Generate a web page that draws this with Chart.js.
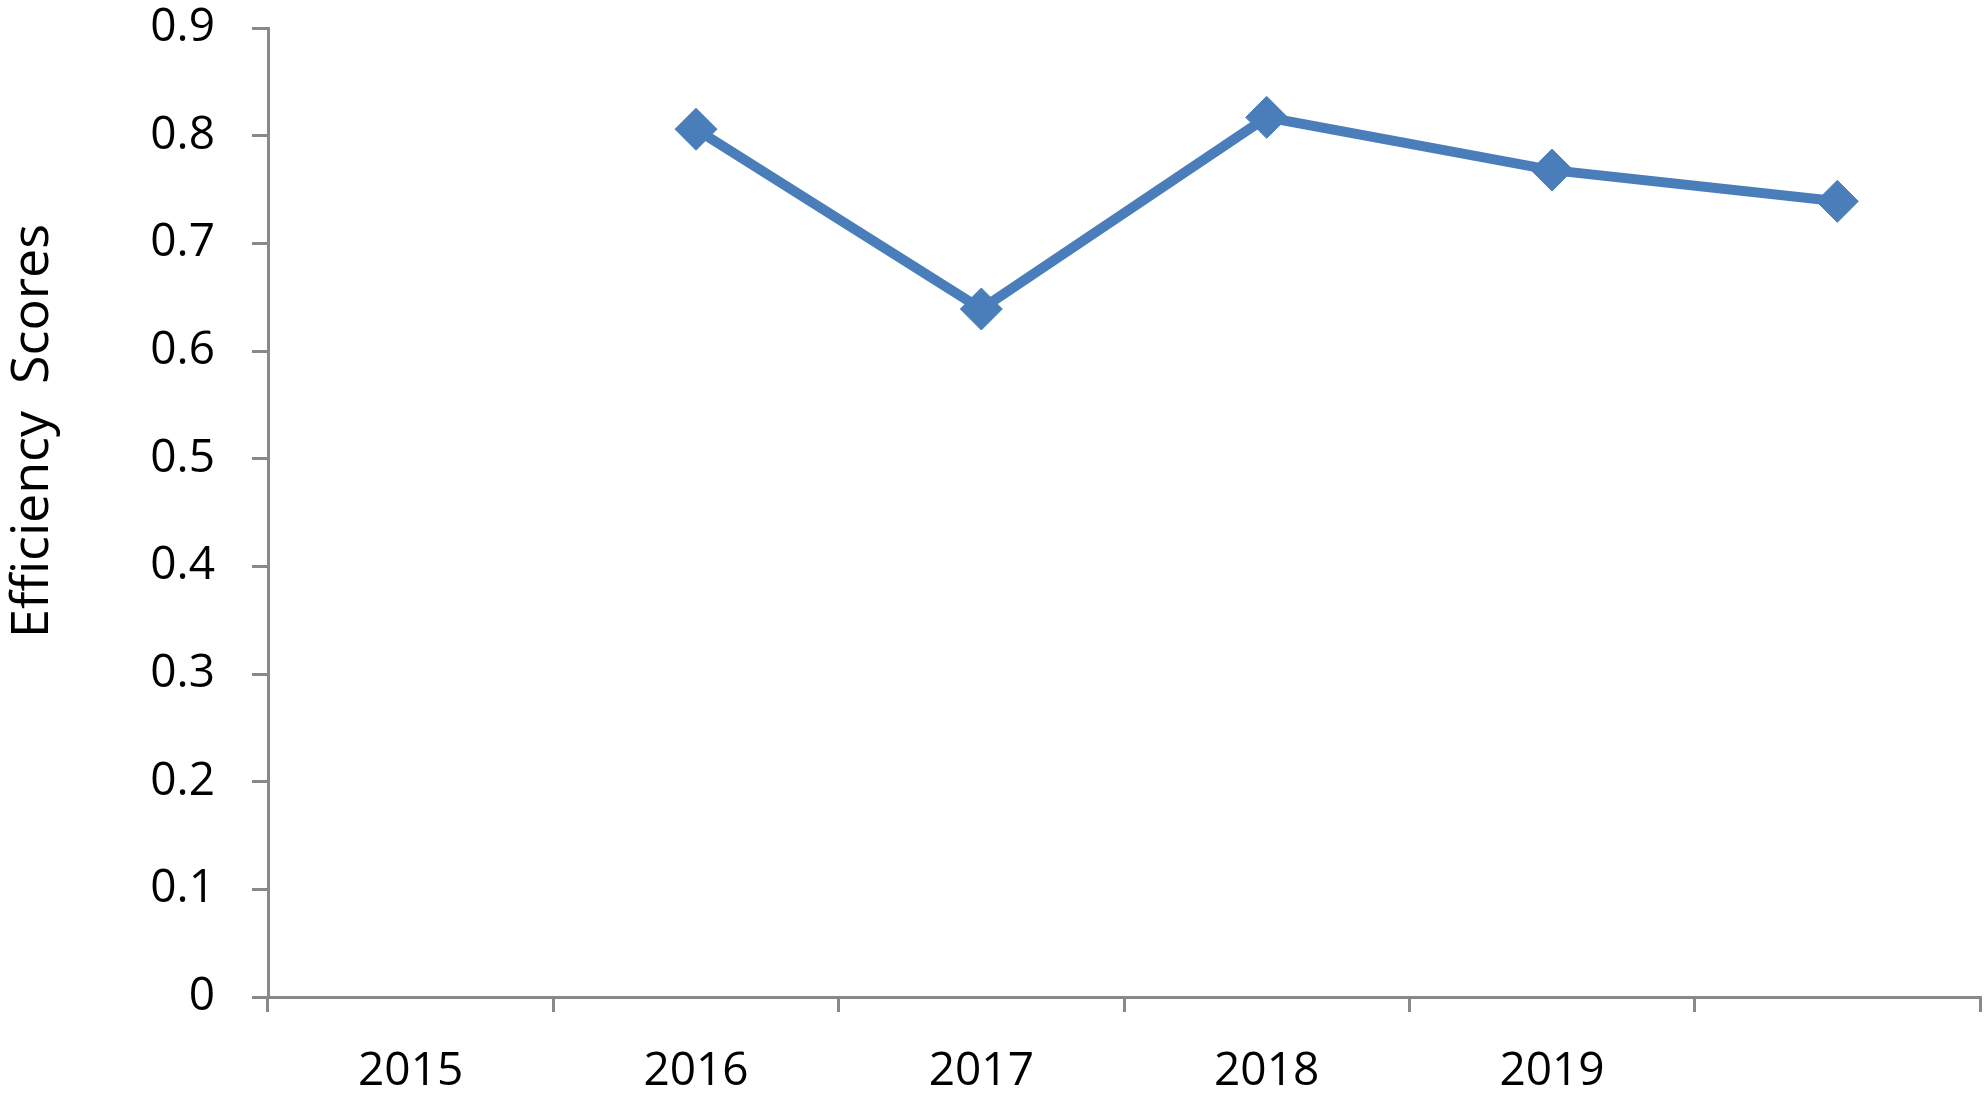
<!DOCTYPE html>
<html>
<head>
<meta charset="utf-8">
<script src="https://cdn.jsdelivr.net/npm/chart.js@4/dist/chart.umd.min.js"></script>
<style>
  html, body { margin: 0; padding: 0; background: #fff; overflow: hidden; }
  canvas { display: block; }
</style>
</head>
<body>
<canvas id="chart" width="1984" height="1099"></canvas>
<script>
// values
const years = ['2015', '2016', '2017', '2018', '2019', ''];
const efficiency = [null, 0.806, 0.639, 0.817, 0.768, 0.739];
const yTitle = 'Efficiency  Scores';

const axisGrey = '#898989';
const lineBlue = '#4a7ebb';
const fontFamily = '"Open Sans", "Liberation Sans", sans-serif';

// y title sits a bit above the middle of the axis, so draw it by hand
const yTitlePlugin = {
    id: 'yTitle',
    afterDraw(chart) {
        const ctx = chart.ctx;
        ctx.save();
        ctx.translate(33, 431);
        ctx.rotate(-Math.PI / 2);
        ctx.font = '52px ' + fontFamily;
        ctx.fillStyle = '#000';
        ctx.textAlign = 'center';
        ctx.textBaseline = 'middle';
        ctx.fillText(yTitle, 0, 0);
        ctx.restore();
    }
};

// drop the label-overflow padding so the plot area lands where the original has it
function noOverflow(scale) {
    scale.paddingTop = 0;
    scale.paddingBottom = 0;
    scale.paddingLeft = 0;
    scale.paddingRight = 0;
}

new Chart(document.getElementById('chart'), {
    type: 'line',
    data: {
        labels: years,
        datasets: [{
            label: yTitle,
            data: efficiency,
            borderColor: lineBlue,
            backgroundColor: lineBlue,
            borderWidth: 10,
            pointStyle: 'rectRot',
            pointRadius: 21,
            pointHoverRadius: 21,
            pointBorderWidth: 1,
            pointBorderColor: lineBlue,
            pointBackgroundColor: lineBlue,
            tension: 0,
            spanGaps: false,
            clip: false
        }]
    },
    options: {
        responsive: false,
        animation: false,
        layout: { autoPadding: false, padding: { left: 0, right: 4, top: 28, bottom: 0 } },
        plugins: {
            legend: { display: false },
            tooltip: { enabled: false }
        },
        scales: {
            x: {
                offset: true,
                grid: {
                    offset: true,
                    drawOnChartArea: false,
                    drawTicks: true,
                    tickLength: 15,
                    color: axisGrey,
                    lineWidth: 3
                },
                border: { color: axisGrey, width: 3 },
                ticks: {
                    color: '#000',
                    font: { family: fontFamily, size: 46 },
                    padding: 32,
                    maxRotation: 0,
                    autoSkip: false
                },
                afterFit(scale) { scale.height = 102; noOverflow(scale); }
            },
            y: {
                min: 0,
                max: 0.9,
                ticks: {
                    stepSize: 0.1,
                    color: '#000',
                    font: { family: fontFamily, size: 46 },
                    padding: 37
                },
                grid: {
                    drawOnChartArea: false,
                    drawTicks: true,
                    tickLength: 16,
                    color: axisGrey,
                    lineWidth: 3
                },
                border: { color: axisGrey, width: 3 },
                afterFit(scale) { scale.width = 268; noOverflow(scale); }
            }
        }
    },
    plugins: [yTitlePlugin]
});
</script>
</body>
</html>
